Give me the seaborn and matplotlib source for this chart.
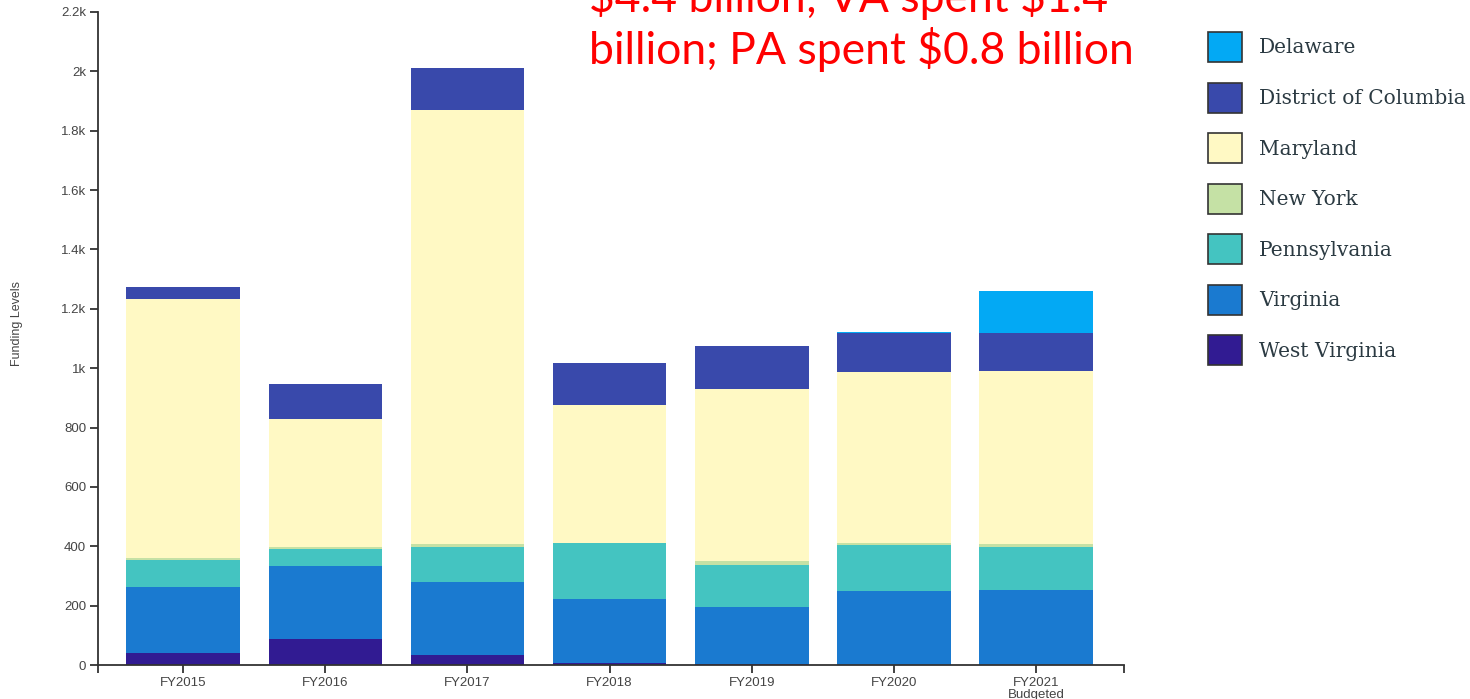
import pandas as pd
import matplotlib
matplotlib.use("Agg")
import matplotlib.pyplot as plt
import seaborn as sns
from matplotlib.patches import Patch
from matplotlib.ticker import FuncFormatter, MultipleLocator

# Funding levels per state
years = ["FY2015", "FY2016", "FY2017", "FY2018", "FY2019", "FY2020", "FY2021\nBudgeted"]
delaware = [0, 0, 0, 2, 0, 3, 139]
district_of_columbia = [41, 120, 144, 141, 144, 132, 129]
maryland = [872, 431, 1461, 464, 581, 578, 584]
new_york = [6, 7, 10, 1, 12, 5, 9]
pennsylvania = [90, 57, 119, 187, 143, 156, 146]
virginia = [223, 246, 244, 215, 192, 248, 251]
west_virginia = [41, 87, 35, 8, 2, 1, 1]

states = ["Delaware", "District of Columbia", "Maryland", "New York",
          "Pennsylvania", "Virginia", "West Virginia"]
colors = ["#03a9f4", "#3949ab", "#fff9c4", "#c5e1a5", "#44c4c1", "#1a7ad0", "#311b92"]

df = pd.DataFrame({
    "year": years,
    "Delaware": delaware,
    "District of Columbia": district_of_columbia,
    "Maryland": maryland,
    "New York": new_york,
    "Pennsylvania": pennsylvania,
    "Virginia": virginia,
    "West Virginia": west_virginia,
})

# cumulative sums from the bottom layer (West Virginia) up
stack = df.set_index("year")[states[::-1]].cumsum(axis=1).reset_index()

sns.set_style("ticks")
plt.rcParams["font.family"] = ["Liberation Sans", "DejaVu Sans"]

fig = plt.figure(figsize=(14.7, 6.99), dpi=100)
ax = fig.add_axes([98 / 1470, 34 / 699, (1124 - 98) / 1470, (665 - 12) / 699])

# draw tallest cumulative first, smaller ones cover it
for state, color in zip(states, colors):
    sns.barplot(data=stack, x="year", y=state, order=years, color=color,
                saturation=1, width=0.8, edgecolor="none", ax=ax)

ax.set_xlim(-0.6, 6.62)
ax.set_ylim(0, 2200)
ax.yaxis.set_major_locator(MultipleLocator(200))


def fmt(v, pos):
    if v >= 1000:
        return f"{v / 1000:g}k"
    return f"{v:g}"


ax.yaxis.set_major_formatter(FuncFormatter(fmt))
ax.set_xlabel("")
ax.set_ylabel("")
sns.despine(ax=ax)
for side in ["left", "bottom"]:
    ax.spines[side].set_color("#333333")
    ax.spines[side].set_linewidth(1.3)
ax.set_xticks([-0.6, 6.62], minor=True)
ax.tick_params(axis="both", which="both", direction="out", length=6, width=1.3,
               color="#333333", labelcolor="#444444", labelsize=9.5, pad=2.5)
for lab in ax.get_xticklabels():
    lab.set_linespacing(1.0)

fig.text(17 / 1470, 1 - 323.5 / 699, "Funding Levels", rotation=90,
         ha="center", va="center", fontsize=9, color="#444444")

# red annotation, first line cut off by the top of the picture
fig.text(589 / 1470, 1 - 12 / 699, r"\$4.4 billion; VA spent \$1.4",
         color="#ff0000", fontsize=32, family=["Lato", "DejaVu Sans"],
         ha="left", va="baseline")
fig.text(589 / 1470, 1 - 64 / 699, r"billion; PA spent \$0.8 billion",
         color="#ff0000", fontsize=32, family=["Lato", "DejaVu Sans"],
         ha="left", va="baseline")

handles = [Patch(facecolor=c, edgecolor="#333333", linewidth=1.2) for c in colors]
fig.legend(handles, states, loc="upper left",
           bbox_to_anchor=(1208 / 1470, 1 - 32 / 699), frameon=False,
           borderpad=0, borderaxespad=0, handlelength=1.69, handleheight=1.915,
           handletextpad=0.85, labelspacing=1.02,
           prop={"family": "DejaVu Serif", "size": 14.5}, labelcolor="#2b3a42")

fig.savefig("out.png", dpi=100)
